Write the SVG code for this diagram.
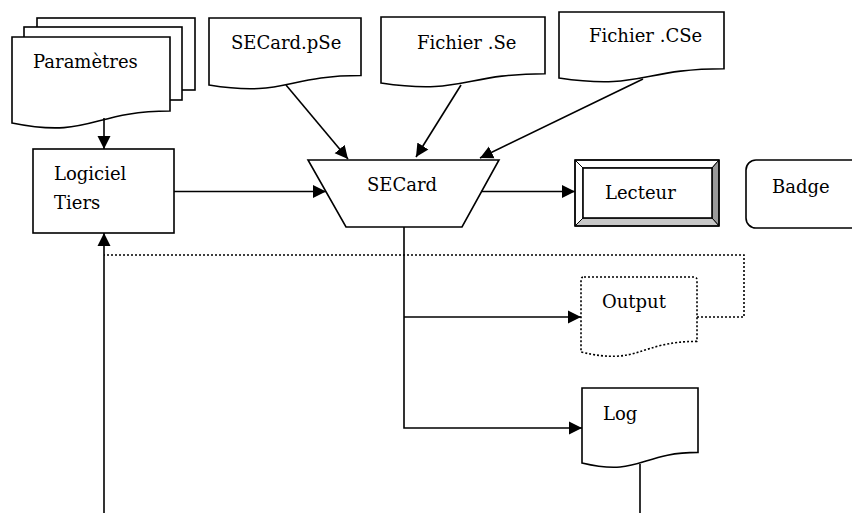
<svg xmlns="http://www.w3.org/2000/svg" width="852" height="513" viewBox="0 0 852 513">
<style>
.s{fill:#fff;stroke:#000;stroke-width:1.6}
.t{font-family:"DejaVu Serif","Liberation Serif",serif;font-size:18px;fill:#000}
.c{fill:none;stroke:#000;stroke-width:1.6}
.d{fill:none;stroke:#000;stroke-width:1.6;stroke-dasharray:2 2}
</style>
<defs>
<marker id="a" markerUnits="userSpaceOnUse" markerWidth="14" markerHeight="14" refX="13" refY="7" orient="auto" viewBox="0 0 14 14">
<path d="M0,0.5 L13,7 L0,13.5 Z" fill="#000"/>
</marker>
</defs>
<rect width="852" height="513" fill="#fff"/>
<g id="parametres">
<rect class="s" x="37" y="18" width="158" height="72"/>
<rect class="s" x="24" y="27" width="158" height="73"/>
<path class="s" d="M12,37 H170 V111 C91,111 91,139 12,123 Z"/>
<text class="t" x="33" y="68">Paramètres</text>
</g>
<g id="secard-pse">
<path class="s" d="M209,18 H361 V75.5 C285,75.5 285,97.4 209,85 Z"/>
<text class="t" x="231" y="49">SECard.pSe</text>
</g>
<g id="fichier-se">
<path class="s" d="M381,17 H545 V73.7 C463,73.7 463,95.3 381,83 Z"/>
<text class="t" x="417" y="49">Fichier .Se</text>
</g>
<g id="fichier-cse">
<path class="s" d="M559,12 H724 V68.7 C641.5,68.7 641.5,90.3 559,78 Z"/>
<text class="t" x="589" y="42">Fichier .CSe</text>
</g>
<g id="logiciel">
<rect class="s" x="33" y="149" width="141" height="84"/>
<text class="t" x="54" y="180">Logiciel</text>
<text class="t" x="54" y="209">Tiers</text>
</g>
<g id="secard">
<path class="s" d="M308,160 H499 L462,227 H346 Z"/>
<text class="t" x="367" y="191">SECard</text>
</g>
<g id="lecteur">
<rect x="575" y="160" width="144" height="66" fill="#fff"/>
<path d="M575,160 H719 L712,168 H583 Z" fill="#fff" stroke="#000" stroke-width="1"/>
<path d="M575,160 L583,168 V218 L575,226 Z" fill="#fff" stroke="#000" stroke-width="1"/>
<path d="M719,160 V226 L712,218 V168 Z" fill="#999" stroke="#000" stroke-width="1"/>
<path d="M575,226 H719 L712,218 H583 Z" fill="#c8c8c8" stroke="#000" stroke-width="1"/>
<rect x="575" y="160" width="144" height="66" fill="none" stroke="#000" stroke-width="1.6"/>
<rect x="583" y="168" width="129" height="50" fill="#fff" stroke="#000" stroke-width="1.6"/>
<text class="t" x="605" y="199">Lecteur</text>
</g>
<g id="badge">
<rect class="s" x="746" y="160" width="130" height="68" rx="10"/>
<text class="t" x="772" y="193">Badge</text>
</g>
<g id="output">
<path class="d" stroke-linejoin="round" d="M584,277 H694 Q697,277 697,280 V341.4 C639,341.4 639,366 581,352 V280 Q581,277 584,277 Z"/>
<text class="t" x="602" y="308">Output</text>
</g>
<g id="log">
<path class="s" d="M582,388 H698 V452.4 C640,452.4 640,477 582,463 Z"/>
<text class="t" x="603" y="420">Log</text>
</g>
<g id="connectors">
<path class="c" d="M104,118 V149" marker-end="url(#a)"/>
<path class="c" d="M174,191.5 H326" marker-end="url(#a)"/>
<path class="c" d="M286,85 L348,159" marker-end="url(#a)"/>
<path class="c" d="M461,85 L416,157" marker-end="url(#a)"/>
<path class="c" d="M643,79 L480,158" marker-end="url(#a)"/>
<path class="c" d="M481,191.5 H575" marker-end="url(#a)"/>
<path class="c" d="M404,227 V428 H582" marker-end="url(#a)"/>
<path class="c" d="M404,317 H581" marker-end="url(#a)"/>
<path class="d" d="M697,317 H744 V255 H104"/>
<path class="c" d="M640,464 V513"/>
<path class="c" d="M104,513 V233" marker-end="url(#a)"/>
</g>
</svg>
